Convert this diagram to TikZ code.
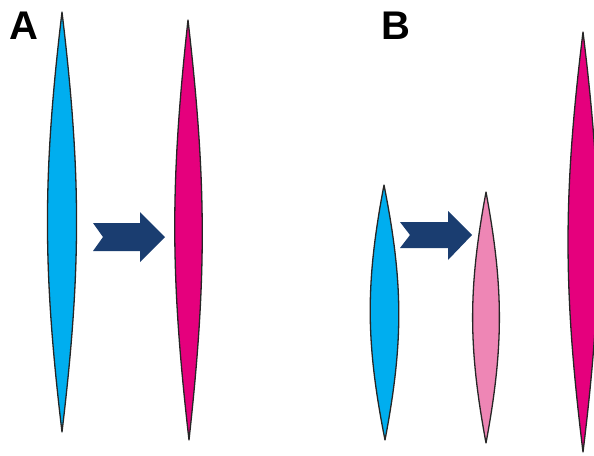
\documentclass[tikz,border=0pt]{standalone}
\usepackage{fontspec}
\setmainfont{Liberation Sans}
\definecolor{lensblue}{HTML}{00AEEF}
\definecolor{lensmag}{HTML}{E5007D}
\definecolor{lenspink}{HTML}{EE86B5}
\definecolor{arrnavy}{HTML}{1A3D70}
\begin{document}
\begin{tikzpicture}[x=1pt,y=-1pt,
  lens/.style={draw=black!85,line width=1.3pt,line join=round},
  fatarrow/.style={fill=arrnavy,draw=none},
  panel/.style={font=\bfseries\fontsize{40}{40}\selectfont,inner sep=0pt,anchor=base west}]
\useasboundingbox (0,0) rectangle (594,455);
% labels
\node[panel] (labA) at (9,39) {A};
\node[panel] (labB) at (381,39) {B};
% panel A
\path[lens,fill=lensblue] (62,12) to[bend left=6.8] (62,432) to[bend left=6.8] cycle;
\path[lens,fill=lensmag] (188,20) to[bend left=6.4] (189,440) to[bend left=6.4] cycle;
\path[fatarrow] (93,223) -- (140,223) -- (140,212) -- (165,237) -- (140,262) -- (140,251) -- (93,251) -- (103,237) -- cycle;
% panel B
\path[lens,fill=lensblue] (384,185) to[bend left=11] (385,440) to[bend left=11] cycle;
\path[lens,fill=lenspink] (486,192) to[bend left=10.5] (486,443) to[bend left=10.5] cycle;
\path[fatarrow] (400,222) -- (448,222) -- (448,211) -- (472,235) -- (448,260) -- (448,248) -- (400,248) -- (410,235) -- cycle;
\path[lens,fill=lensmag] (583,32) to[bend left=7] (583,452) to[bend left=7] cycle;
\end{tikzpicture}
\end{document}
